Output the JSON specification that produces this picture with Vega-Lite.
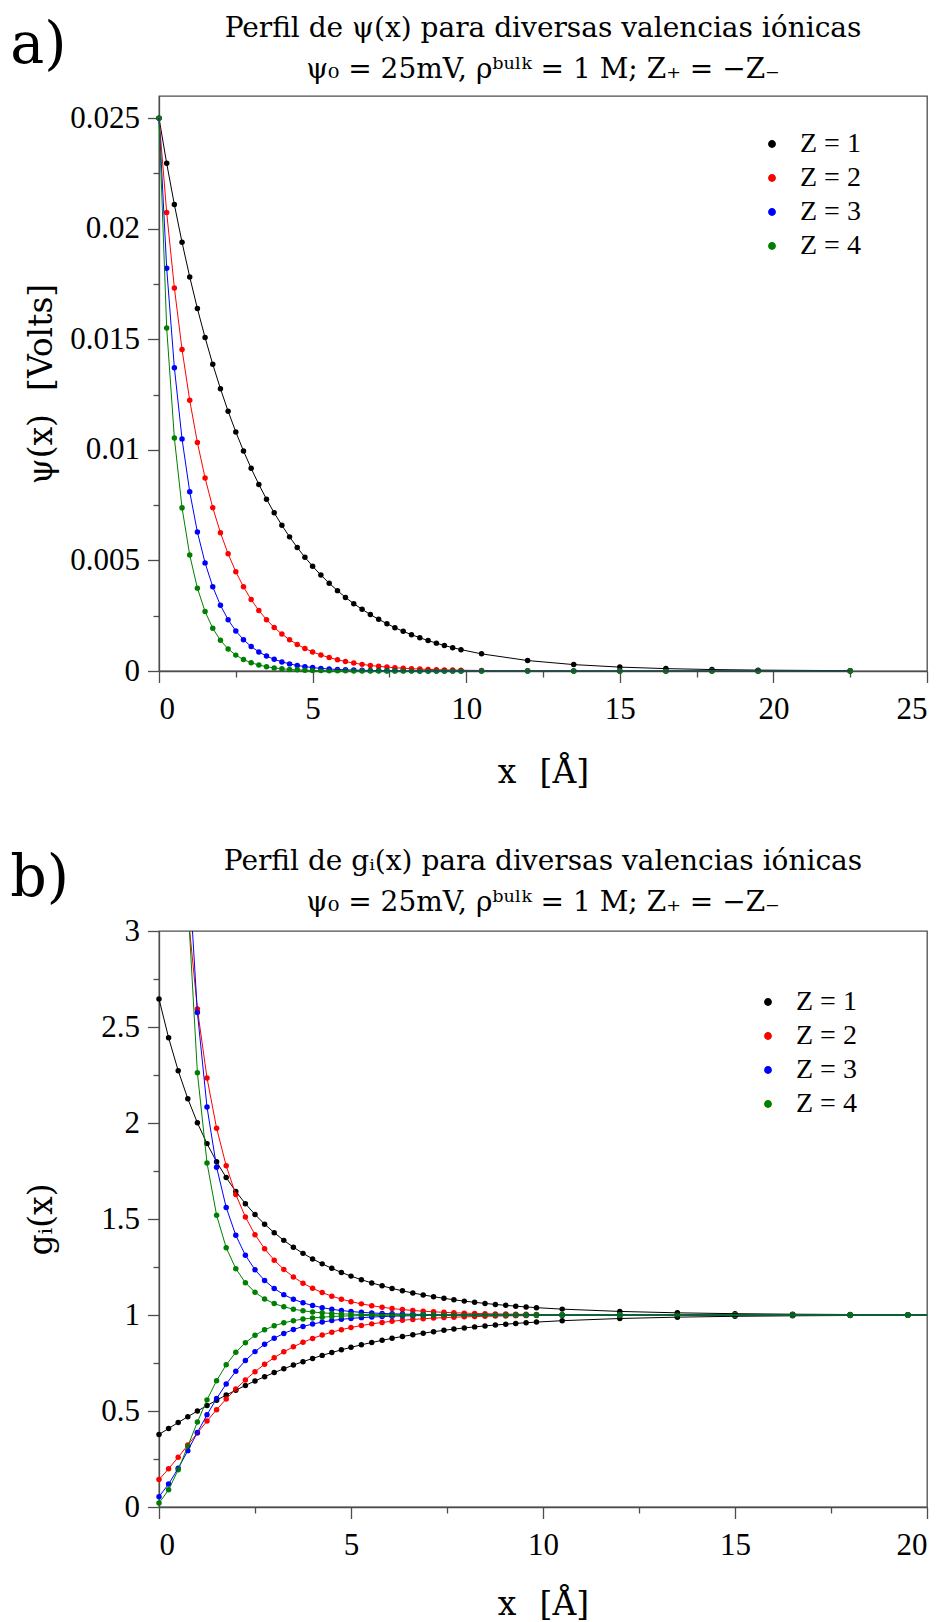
{
"$schema":"https://vega.github.io/schema/vega-lite/v6.json",
"background":"white",
"padding":{"left":10,"top":14,"right":0,"bottom":0},
"spacing":56,
"resolve":{"scale":{"x":"independent","y":"independent","color":"independent"},"axis":{"x":"independent","y":"independent"},"legend":{"color":"independent"}},
"config":{
"view":{"stroke":"#4d4d4d","strokeWidth":1.3},
"axis":{"domainColor":"#4d4d4d","domainWidth":1.3,"tickColor":"#4d4d4d","tickWidth":1.3,"labelFont":"Liberation Serif","labelFontSize":31,"labelColor":"#000000","titleFont":"DejaVu Serif","titleFontSize":33,"titleFontWeight":"normal","titleColor":"#000000","grid":false},
"legend":{"labelFont":"Liberation Serif","labelFontSize":28,"labelColor":"#000000","symbolType":"circle","symbolSize":40,"rowPadding":6,"labelOffset":14,"padding":0},
"title":{"font":"DejaVu Serif","fontSize":28,"fontWeight":"normal","color":"#000000","subtitleFont":"DejaVu Serif","subtitleFontSize":28,"subtitleColor":"#000000","subtitlePadding":13,"offset":12}
},
"datasets":{
"psi":[
{"z":"Z = 1","x":0,"v":0.025},{"z":"Z = 1","x":0.25,"v":0.022956},{"z":"Z = 1","x":0.5,"v":0.02109},{"z":"Z = 1","x":0.75,"v":0.019384},{"z":"Z = 1","x":1,"v":0.01782},{"z":"Z = 1","x":1.25,"v":0.016389},{"z":"Z = 1","x":1.5,"v":0.015075},{"z":"Z = 1","x":1.75,"v":0.01387},{"z":"Z = 1","x":2,"v":0.012764},{"z":"Z = 1","x":2.25,"v":0.011747},{"z":"Z = 1","x":2.5,"v":0.010812},{"z":"Z = 1","x":2.75,"v":0.009952},{"z":"Z = 1","x":3,"v":0.009163},{"z":"Z = 1","x":3.25,"v":0.008436},{"z":"Z = 1","x":3.5,"v":0.007767},{"z":"Z = 1","x":3.75,"v":0.007152},{"z":"Z = 1","x":4,"v":0.006586},{"z":"Z = 1","x":4.25,"v":0.006065},{"z":"Z = 1","x":4.5,"v":0.005585},{"z":"Z = 1","x":4.75,"v":0.005143},{"z":"Z = 1","x":5,"v":0.004737},{"z":"Z = 1","x":5.27,"v":0.004336},{"z":"Z = 1","x":5.54,"v":0.00397},{"z":"Z = 1","x":5.81,"v":0.003634},{"z":"Z = 1","x":6.07,"v":0.003326},{"z":"Z = 1","x":6.34,"v":0.003046},{"z":"Z = 1","x":6.61,"v":0.002789},{"z":"Z = 1","x":6.88,"v":0.002553},{"z":"Z = 1","x":7.15,"v":0.002337},{"z":"Z = 1","x":7.42,"v":0.00214},{"z":"Z = 1","x":7.68,"v":0.001959},{"z":"Z = 1","x":7.95,"v":0.001793},{"z":"Z = 1","x":8.22,"v":0.001642},{"z":"Z = 1","x":8.49,"v":0.001503},{"z":"Z = 1","x":8.76,"v":0.001376},{"z":"Z = 1","x":9.03,"v":0.00126},{"z":"Z = 1","x":9.29,"v":0.001153},{"z":"Z = 1","x":9.56,"v":0.001055},{"z":"Z = 1","x":9.83,"v":0.000966},{"z":"Z = 1","x":10.5,"v":0.000775},{"z":"Z = 1","x":12,"v":0.000473},{"z":"Z = 1","x":13.5,"v":0.000289},{"z":"Z = 1","x":15,"v":0.000176},{"z":"Z = 1","x":16.5,"v":0.000108},{"z":"Z = 1","x":18,"v":0.000066},{"z":"Z = 1","x":19.5,"v":0.00004},{"z":"Z = 1","x":22.5,"v":0.000015},
{"z":"Z = 2","x":0,"v":0.025},{"z":"Z = 2","x":0.25,"v":0.020736},{"z":"Z = 2","x":0.5,"v":0.017322},{"z":"Z = 2","x":0.75,"v":0.014538},{"z":"Z = 2","x":1,"v":0.012241},{"z":"Z = 2","x":1.25,"v":0.010329},{"z":"Z = 2","x":1.5,"v":0.00873},{"z":"Z = 2","x":1.75,"v":0.007386},{"z":"Z = 2","x":2,"v":0.006254},{"z":"Z = 2","x":2.25,"v":0.005298},{"z":"Z = 2","x":2.5,"v":0.00449},{"z":"Z = 2","x":2.75,"v":0.003807},{"z":"Z = 2","x":3,"v":0.003228},{"z":"Z = 2","x":3.25,"v":0.002737},{"z":"Z = 2","x":3.5,"v":0.002321},{"z":"Z = 2","x":3.75,"v":0.001969},{"z":"Z = 2","x":4,"v":0.00167},{"z":"Z = 2","x":4.25,"v":0.001416},{"z":"Z = 2","x":4.5,"v":0.001201},{"z":"Z = 2","x":4.75,"v":0.001019},{"z":"Z = 2","x":5,"v":0.000864},{"z":"Z = 2","x":5.27,"v":0.000724},{"z":"Z = 2","x":5.54,"v":0.000607},{"z":"Z = 2","x":5.81,"v":0.000509},{"z":"Z = 2","x":6.07,"v":0.000427},{"z":"Z = 2","x":6.34,"v":0.000358},{"z":"Z = 2","x":6.61,"v":0.0003},{"z":"Z = 2","x":6.88,"v":0.000251},{"z":"Z = 2","x":7.15,"v":0.000211},{"z":"Z = 2","x":7.42,"v":0.000176},{"z":"Z = 2","x":7.68,"v":0.000148},{"z":"Z = 2","x":7.95,"v":0.000124},{"z":"Z = 2","x":8.22,"v":0.000104},{"z":"Z = 2","x":8.49,"v":0.000087},{"z":"Z = 2","x":8.76,"v":0.000073},{"z":"Z = 2","x":9.03,"v":0.000061},{"z":"Z = 2","x":9.29,"v":0.000051},{"z":"Z = 2","x":9.56,"v":0.000043},{"z":"Z = 2","x":9.83,"v":0.000036},{"z":"Z = 2","x":10.5,"v":0.000023},{"z":"Z = 2","x":12,"v":0.000009},{"z":"Z = 2","x":13.5,"v":0.000003},{"z":"Z = 2","x":15,"v":0.000001},{"z":"Z = 2","x":16.5,"v":0},{"z":"Z = 2","x":18,"v":0},{"z":"Z = 2","x":19.5,"v":0},{"z":"Z = 2","x":22.5,"v":0},
{"z":"Z = 3","x":0,"v":0.025},{"z":"Z = 3","x":0.25,"v":0.018216},{"z":"Z = 3","x":0.5,"v":0.013717},{"z":"Z = 3","x":0.75,"v":0.010496},{"z":"Z = 3","x":1,"v":0.008102},{"z":"Z = 3","x":1.25,"v":0.006284},{"z":"Z = 3","x":1.5,"v":0.004889},{"z":"Z = 3","x":1.75,"v":0.00381},{"z":"Z = 3","x":2,"v":0.002972},{"z":"Z = 3","x":2.25,"v":0.00232},{"z":"Z = 3","x":2.5,"v":0.001812},{"z":"Z = 3","x":2.75,"v":0.001415},{"z":"Z = 3","x":3,"v":0.001106},{"z":"Z = 3","x":3.25,"v":0.000864},{"z":"Z = 3","x":3.5,"v":0.000675},{"z":"Z = 3","x":3.75,"v":0.000527},{"z":"Z = 3","x":4,"v":0.000412},{"z":"Z = 3","x":4.25,"v":0.000322},{"z":"Z = 3","x":4.5,"v":0.000252},{"z":"Z = 3","x":4.75,"v":0.000197},{"z":"Z = 3","x":5,"v":0.000154},{"z":"Z = 3","x":5.27,"v":0.000118},{"z":"Z = 3","x":5.54,"v":0.00009},{"z":"Z = 3","x":5.81,"v":0.000069},{"z":"Z = 3","x":6.07,"v":0.000053},{"z":"Z = 3","x":6.34,"v":0.000041},{"z":"Z = 3","x":6.61,"v":0.000031},{"z":"Z = 3","x":6.88,"v":0.000024},{"z":"Z = 3","x":7.15,"v":0.000019},{"z":"Z = 3","x":7.42,"v":0.000014},{"z":"Z = 3","x":7.68,"v":0.000011},{"z":"Z = 3","x":7.95,"v":0.000008},{"z":"Z = 3","x":8.22,"v":0.000006},{"z":"Z = 3","x":8.49,"v":0.000005},{"z":"Z = 3","x":8.76,"v":0.000004},{"z":"Z = 3","x":9.03,"v":0.000003},{"z":"Z = 3","x":9.29,"v":0.000002},{"z":"Z = 3","x":9.56,"v":0.000002},{"z":"Z = 3","x":9.83,"v":0.000001},{"z":"Z = 3","x":10.5,"v":0.000001},{"z":"Z = 3","x":12,"v":0},{"z":"Z = 3","x":13.5,"v":0},{"z":"Z = 3","x":15,"v":0},{"z":"Z = 3","x":16.5,"v":0},{"z":"Z = 3","x":18,"v":0},{"z":"Z = 3","x":19.5,"v":0},{"z":"Z = 3","x":22.5,"v":0},
{"z":"Z = 4","x":0,"v":0.025},{"z":"Z = 4","x":0.25,"v":0.015514},{"z":"Z = 4","x":0.5,"v":0.010534},{"z":"Z = 4","x":0.75,"v":0.007379},{"z":"Z = 4","x":1,"v":0.005241},{"z":"Z = 4","x":1.25,"v":0.003747},{"z":"Z = 4","x":1.5,"v":0.002687},{"z":"Z = 4","x":1.75,"v":0.00193},{"z":"Z = 4","x":2,"v":0.001388},{"z":"Z = 4","x":2.25,"v":0.000999},{"z":"Z = 4","x":2.5,"v":0.000718},{"z":"Z = 4","x":2.75,"v":0.000517},{"z":"Z = 4","x":3,"v":0.000372},{"z":"Z = 4","x":3.25,"v":0.000268},{"z":"Z = 4","x":3.5,"v":0.000193},{"z":"Z = 4","x":3.75,"v":0.000139},{"z":"Z = 4","x":4,"v":0.0001},{"z":"Z = 4","x":4.25,"v":0.000072},{"z":"Z = 4","x":4.5,"v":0.000052},{"z":"Z = 4","x":4.75,"v":0.000037},{"z":"Z = 4","x":5,"v":0.000027},{"z":"Z = 4","x":5.27,"v":0.000019},{"z":"Z = 4","x":5.54,"v":0.000013},{"z":"Z = 4","x":5.81,"v":0.000009},{"z":"Z = 4","x":6.07,"v":0.000007},{"z":"Z = 4","x":6.34,"v":0.000005},{"z":"Z = 4","x":6.61,"v":0.000003},{"z":"Z = 4","x":6.88,"v":0.000002},{"z":"Z = 4","x":7.15,"v":0.000002},{"z":"Z = 4","x":7.42,"v":0.000001},{"z":"Z = 4","x":7.68,"v":0.000001},{"z":"Z = 4","x":7.95,"v":0},{"z":"Z = 4","x":8.22,"v":0},{"z":"Z = 4","x":8.49,"v":0},{"z":"Z = 4","x":8.76,"v":0},{"z":"Z = 4","x":9.03,"v":0},{"z":"Z = 4","x":9.29,"v":0},{"z":"Z = 4","x":9.56,"v":0},{"z":"Z = 4","x":9.83,"v":0},{"z":"Z = 4","x":10.5,"v":0},{"z":"Z = 4","x":12,"v":0},{"z":"Z = 4","x":13.5,"v":0},{"z":"Z = 4","x":15,"v":0},{"z":"Z = 4","x":16.5,"v":0},{"z":"Z = 4","x":18,"v":0},{"z":"Z = 4","x":19.5,"v":0},{"z":"Z = 4","x":22.5,"v":0}
],
"g":[
{"z":"Z = 1","b":"+","x":0,"g":2.6462},{"z":"Z = 1","b":"+","x":0.25,"g":2.4438},{"z":"Z = 1","b":"+","x":0.5,"g":2.2726},{"z":"Z = 1","b":"+","x":0.75,"g":2.1266},{"z":"Z = 1","b":"+","x":1,"g":2.0011},{"z":"Z = 1","b":"+","x":1.25,"g":1.8926},{"z":"Z = 1","b":"+","x":1.5,"g":1.7982},{"z":"Z = 1","b":"+","x":1.75,"g":1.7158},{"z":"Z = 1","b":"+","x":2,"g":1.6435},{"z":"Z = 1","b":"+","x":2.25,"g":1.5798},{"z":"Z = 1","b":"+","x":2.5,"g":1.5233},{"z":"Z = 1","b":"+","x":2.75,"g":1.4731},{"z":"Z = 1","b":"+","x":3,"g":1.4286},{"z":"Z = 1","b":"+","x":3.25,"g":1.3887},{"z":"Z = 1","b":"+","x":3.5,"g":1.353},{"z":"Z = 1","b":"+","x":3.75,"g":1.321},{"z":"Z = 1","b":"+","x":4,"g":1.2922},{"z":"Z = 1","b":"+","x":4.25,"g":1.2663},{"z":"Z = 1","b":"+","x":4.5,"g":1.2429},{"z":"Z = 1","b":"+","x":4.75,"g":1.2217},{"z":"Z = 1","b":"+","x":5,"g":1.2025},{"z":"Z = 1","b":"+","x":5.27,"g":1.1839},{"z":"Z = 1","b":"+","x":5.54,"g":1.1671},{"z":"Z = 1","b":"+","x":5.81,"g":1.152},{"z":"Z = 1","b":"+","x":6.07,"g":1.1382},{"z":"Z = 1","b":"+","x":6.34,"g":1.1259},{"z":"Z = 1","b":"+","x":6.61,"g":1.1147},{"z":"Z = 1","b":"+","x":6.88,"g":1.1045},{"z":"Z = 1","b":"+","x":7.15,"g":1.0953},{"z":"Z = 1","b":"+","x":7.42,"g":1.0869},{"z":"Z = 1","b":"+","x":7.68,"g":1.0792},{"z":"Z = 1","b":"+","x":7.95,"g":1.0723},{"z":"Z = 1","b":"+","x":8.22,"g":1.066},{"z":"Z = 1","b":"+","x":8.49,"g":1.0603},{"z":"Z = 1","b":"+","x":8.76,"g":1.055},{"z":"Z = 1","b":"+","x":9.03,"g":1.0503},{"z":"Z = 1","b":"+","x":9.29,"g":1.0459},{"z":"Z = 1","b":"+","x":9.56,"g":1.0419},{"z":"Z = 1","b":"+","x":9.83,"g":1.0383},{"z":"Z = 1","b":"+","x":10.5,"g":1.0306},{"z":"Z = 1","b":"+","x":12,"g":1.0186},{"z":"Z = 1","b":"+","x":13.5,"g":1.0113},{"z":"Z = 1","b":"+","x":15,"g":1.0069},{"z":"Z = 1","b":"+","x":16.5,"g":1.0042},{"z":"Z = 1","b":"+","x":18,"g":1.0026},{"z":"Z = 1","b":"+","x":19.5,"g":1.0016},{"z":"Z = 1","b":"+","x":22.5,"g":1.0006},
{"z":"Z = 1","b":"-","x":0,"g":0.3779},{"z":"Z = 1","b":"-","x":0.25,"g":0.4092},{"z":"Z = 1","b":"-","x":0.5,"g":0.44},{"z":"Z = 1","b":"-","x":0.75,"g":0.4702},{"z":"Z = 1","b":"-","x":1,"g":0.4997},{"z":"Z = 1","b":"-","x":1.25,"g":0.5284},{"z":"Z = 1","b":"-","x":1.5,"g":0.5561},{"z":"Z = 1","b":"-","x":1.75,"g":0.5828},{"z":"Z = 1","b":"-","x":2,"g":0.6085},{"z":"Z = 1","b":"-","x":2.25,"g":0.633},{"z":"Z = 1","b":"-","x":2.5,"g":0.6565},{"z":"Z = 1","b":"-","x":2.75,"g":0.6788},{"z":"Z = 1","b":"-","x":3,"g":0.7},{"z":"Z = 1","b":"-","x":3.25,"g":0.7201},{"z":"Z = 1","b":"-","x":3.5,"g":0.7391},{"z":"Z = 1","b":"-","x":3.75,"g":0.757},{"z":"Z = 1","b":"-","x":4,"g":0.7739},{"z":"Z = 1","b":"-","x":4.25,"g":0.7897},{"z":"Z = 1","b":"-","x":4.5,"g":0.8046},{"z":"Z = 1","b":"-","x":4.75,"g":0.8185},{"z":"Z = 1","b":"-","x":5,"g":0.8316},{"z":"Z = 1","b":"-","x":5.27,"g":0.8447},{"z":"Z = 1","b":"-","x":5.54,"g":0.8568},{"z":"Z = 1","b":"-","x":5.81,"g":0.8681},{"z":"Z = 1","b":"-","x":6.07,"g":0.8785},{"z":"Z = 1","b":"-","x":6.34,"g":0.8882},{"z":"Z = 1","b":"-","x":6.61,"g":0.8971},{"z":"Z = 1","b":"-","x":6.88,"g":0.9054},{"z":"Z = 1","b":"-","x":7.15,"g":0.913},{"z":"Z = 1","b":"-","x":7.42,"g":0.9201},{"z":"Z = 1","b":"-","x":7.68,"g":0.9266},{"z":"Z = 1","b":"-","x":7.95,"g":0.9326},{"z":"Z = 1","b":"-","x":8.22,"g":0.9381},{"z":"Z = 1","b":"-","x":8.49,"g":0.9432},{"z":"Z = 1","b":"-","x":8.76,"g":0.9478},{"z":"Z = 1","b":"-","x":9.03,"g":0.9521},{"z":"Z = 1","b":"-","x":9.29,"g":0.9561},{"z":"Z = 1","b":"-","x":9.56,"g":0.9598},{"z":"Z = 1","b":"-","x":9.83,"g":0.9631},{"z":"Z = 1","b":"-","x":10.5,"g":0.9703},{"z":"Z = 1","b":"-","x":12,"g":0.9817},{"z":"Z = 1","b":"-","x":13.5,"g":0.9888},{"z":"Z = 1","b":"-","x":15,"g":0.9932},{"z":"Z = 1","b":"-","x":16.5,"g":0.9958},{"z":"Z = 1","b":"-","x":18,"g":0.9974},{"z":"Z = 1","b":"-","x":19.5,"g":0.9984},{"z":"Z = 1","b":"-","x":22.5,"g":0.9994},
{"z":"Z = 2","b":"+","x":0,"g":7.002},{"z":"Z = 2","b":"+","x":0.25,"g":5.0243},{"z":"Z = 2","b":"+","x":0.5,"g":3.8517},{"z":"Z = 2","b":"+","x":0.75,"g":3.1012},{"z":"Z = 2","b":"+","x":1,"g":2.5934},{"z":"Z = 2","b":"+","x":1.25,"g":2.2348},{"z":"Z = 2","b":"+","x":1.5,"g":1.9731},{"z":"Z = 2","b":"+","x":1.75,"g":1.7771},{"z":"Z = 2","b":"+","x":2,"g":1.6272},{"z":"Z = 2","b":"+","x":2.25,"g":1.5105},{"z":"Z = 2","b":"+","x":2.5,"g":1.4185},{"z":"Z = 2","b":"+","x":2.75,"g":1.3449},{"z":"Z = 2","b":"+","x":3,"g":1.2857},{"z":"Z = 2","b":"+","x":3.25,"g":1.2375},{"z":"Z = 2","b":"+","x":3.5,"g":1.1981},{"z":"Z = 2","b":"+","x":3.75,"g":1.1657},{"z":"Z = 2","b":"+","x":4,"g":1.1388},{"z":"Z = 2","b":"+","x":4.25,"g":1.1166},{"z":"Z = 2","b":"+","x":4.5,"g":1.0981},{"z":"Z = 2","b":"+","x":4.75,"g":1.0826},{"z":"Z = 2","b":"+","x":5,"g":1.0696},{"z":"Z = 2","b":"+","x":5.27,"g":1.058},{"z":"Z = 2","b":"+","x":5.54,"g":1.0484},{"z":"Z = 2","b":"+","x":5.81,"g":1.0404},{"z":"Z = 2","b":"+","x":6.07,"g":1.0338},{"z":"Z = 2","b":"+","x":6.34,"g":1.0282},{"z":"Z = 2","b":"+","x":6.61,"g":1.0236},{"z":"Z = 2","b":"+","x":6.88,"g":1.0197},{"z":"Z = 2","b":"+","x":7.15,"g":1.0165},{"z":"Z = 2","b":"+","x":7.42,"g":1.0138},{"z":"Z = 2","b":"+","x":7.68,"g":1.0116},{"z":"Z = 2","b":"+","x":7.95,"g":1.0097},{"z":"Z = 2","b":"+","x":8.22,"g":1.0081},{"z":"Z = 2","b":"+","x":8.49,"g":1.0068},{"z":"Z = 2","b":"+","x":8.76,"g":1.0057},{"z":"Z = 2","b":"+","x":9.03,"g":1.0048},{"z":"Z = 2","b":"+","x":9.29,"g":1.004},{"z":"Z = 2","b":"+","x":9.56,"g":1.0034},{"z":"Z = 2","b":"+","x":9.83,"g":1.0028},{"z":"Z = 2","b":"+","x":10.5,"g":1.0018},{"z":"Z = 2","b":"+","x":12,"g":1.0007},{"z":"Z = 2","b":"+","x":13.5,"g":1.0003},{"z":"Z = 2","b":"+","x":15,"g":1.0001},{"z":"Z = 2","b":"+","x":16.5,"g":1},{"z":"Z = 2","b":"+","x":18,"g":1},{"z":"Z = 2","b":"+","x":19.5,"g":1},{"z":"Z = 2","b":"+","x":22.5,"g":1},
{"z":"Z = 2","b":"-","x":0,"g":0.1428},{"z":"Z = 2","b":"-","x":0.25,"g":0.199},{"z":"Z = 2","b":"-","x":0.5,"g":0.2596},{"z":"Z = 2","b":"-","x":0.75,"g":0.3225},{"z":"Z = 2","b":"-","x":1,"g":0.3856},{"z":"Z = 2","b":"-","x":1.25,"g":0.4475},{"z":"Z = 2","b":"-","x":1.5,"g":0.5068},{"z":"Z = 2","b":"-","x":1.75,"g":0.5627},{"z":"Z = 2","b":"-","x":2,"g":0.6146},{"z":"Z = 2","b":"-","x":2.25,"g":0.662},{"z":"Z = 2","b":"-","x":2.5,"g":0.705},{"z":"Z = 2","b":"-","x":2.75,"g":0.7435},{"z":"Z = 2","b":"-","x":3,"g":0.7778},{"z":"Z = 2","b":"-","x":3.25,"g":0.8081},{"z":"Z = 2","b":"-","x":3.5,"g":0.8347},{"z":"Z = 2","b":"-","x":3.75,"g":0.8579},{"z":"Z = 2","b":"-","x":4,"g":0.8781},{"z":"Z = 2","b":"-","x":4.25,"g":0.8956},{"z":"Z = 2","b":"-","x":4.5,"g":0.9107},{"z":"Z = 2","b":"-","x":4.75,"g":0.9237},{"z":"Z = 2","b":"-","x":5,"g":0.9349},{"z":"Z = 2","b":"-","x":5.27,"g":0.9452},{"z":"Z = 2","b":"-","x":5.54,"g":0.9538},{"z":"Z = 2","b":"-","x":5.81,"g":0.9612},{"z":"Z = 2","b":"-","x":6.07,"g":0.9673},{"z":"Z = 2","b":"-","x":6.34,"g":0.9726},{"z":"Z = 2","b":"-","x":6.61,"g":0.9769},{"z":"Z = 2","b":"-","x":6.88,"g":0.9806},{"z":"Z = 2","b":"-","x":7.15,"g":0.9838},{"z":"Z = 2","b":"-","x":7.42,"g":0.9864},{"z":"Z = 2","b":"-","x":7.68,"g":0.9886},{"z":"Z = 2","b":"-","x":7.95,"g":0.9904},{"z":"Z = 2","b":"-","x":8.22,"g":0.9919},{"z":"Z = 2","b":"-","x":8.49,"g":0.9932},{"z":"Z = 2","b":"-","x":8.76,"g":0.9943},{"z":"Z = 2","b":"-","x":9.03,"g":0.9953},{"z":"Z = 2","b":"-","x":9.29,"g":0.996},{"z":"Z = 2","b":"-","x":9.56,"g":0.9967},{"z":"Z = 2","b":"-","x":9.83,"g":0.9972},{"z":"Z = 2","b":"-","x":10.5,"g":0.9982},{"z":"Z = 2","b":"-","x":12,"g":0.9993},{"z":"Z = 2","b":"-","x":13.5,"g":0.9997},{"z":"Z = 2","b":"-","x":15,"g":0.9999},{"z":"Z = 2","b":"-","x":16.5,"g":1},{"z":"Z = 2","b":"-","x":18,"g":1},{"z":"Z = 2","b":"-","x":19.5,"g":1},{"z":"Z = 2","b":"-","x":22.5,"g":1},
{"z":"Z = 3","b":"+","x":0,"g":18.529},{"z":"Z = 3","b":"+","x":0.25,"g":8.3915},{"z":"Z = 3","b":"+","x":0.5,"g":4.9621},{"z":"Z = 3","b":"+","x":0.75,"g":3.4066},{"z":"Z = 3","b":"+","x":1,"g":2.5756},{"z":"Z = 3","b":"+","x":1.25,"g":2.0832},{"z":"Z = 3","b":"+","x":1.5,"g":1.7699},{"z":"Z = 3","b":"+","x":1.75,"g":1.5604},{"z":"Z = 3","b":"+","x":2,"g":1.415},{"z":"Z = 3","b":"+","x":2.25,"g":1.3112},{"z":"Z = 3","b":"+","x":2.5,"g":1.2356},{"z":"Z = 3","b":"+","x":2.75,"g":1.1797},{"z":"Z = 3","b":"+","x":3,"g":1.1378},{"z":"Z = 3","b":"+","x":3.25,"g":1.1061},{"z":"Z = 3","b":"+","x":3.5,"g":1.082},{"z":"Z = 3","b":"+","x":3.75,"g":1.0635},{"z":"Z = 3","b":"+","x":4,"g":1.0493},{"z":"Z = 3","b":"+","x":4.25,"g":1.0383},{"z":"Z = 3","b":"+","x":4.5,"g":1.0298},{"z":"Z = 3","b":"+","x":4.75,"g":1.0232},{"z":"Z = 3","b":"+","x":5,"g":1.0181},{"z":"Z = 3","b":"+","x":5.27,"g":1.0139},{"z":"Z = 3","b":"+","x":5.54,"g":1.0106},{"z":"Z = 3","b":"+","x":5.81,"g":1.0081},{"z":"Z = 3","b":"+","x":6.07,"g":1.0062},{"z":"Z = 3","b":"+","x":6.34,"g":1.0048},{"z":"Z = 3","b":"+","x":6.61,"g":1.0037},{"z":"Z = 3","b":"+","x":6.88,"g":1.0028},{"z":"Z = 3","b":"+","x":7.15,"g":1.0022},{"z":"Z = 3","b":"+","x":7.42,"g":1.0017},{"z":"Z = 3","b":"+","x":7.68,"g":1.0013},{"z":"Z = 3","b":"+","x":7.95,"g":1.001},{"z":"Z = 3","b":"+","x":8.22,"g":1.0007},{"z":"Z = 3","b":"+","x":8.49,"g":1.0006},{"z":"Z = 3","b":"+","x":8.76,"g":1.0004},{"z":"Z = 3","b":"+","x":9.03,"g":1.0003},{"z":"Z = 3","b":"+","x":9.29,"g":1.0003},{"z":"Z = 3","b":"+","x":9.56,"g":1.0002},{"z":"Z = 3","b":"+","x":9.83,"g":1.0002},{"z":"Z = 3","b":"+","x":10.5,"g":1.0001},{"z":"Z = 3","b":"+","x":12,"g":1},{"z":"Z = 3","b":"+","x":13.5,"g":1},{"z":"Z = 3","b":"+","x":15,"g":1},{"z":"Z = 3","b":"+","x":16.5,"g":1},{"z":"Z = 3","b":"+","x":18,"g":1},{"z":"Z = 3","b":"+","x":19.5,"g":1},{"z":"Z = 3","b":"+","x":22.5,"g":1},
{"z":"Z = 3","b":"-","x":0,"g":0.054},{"z":"Z = 3","b":"-","x":0.25,"g":0.1192},{"z":"Z = 3","b":"-","x":0.5,"g":0.2015},{"z":"Z = 3","b":"-","x":0.75,"g":0.2936},{"z":"Z = 3","b":"-","x":1,"g":0.3883},{"z":"Z = 3","b":"-","x":1.25,"g":0.48},{"z":"Z = 3","b":"-","x":1.5,"g":0.565},{"z":"Z = 3","b":"-","x":1.75,"g":0.6409},{"z":"Z = 3","b":"-","x":2,"g":0.7067},{"z":"Z = 3","b":"-","x":2.25,"g":0.7627},{"z":"Z = 3","b":"-","x":2.5,"g":0.8093},{"z":"Z = 3","b":"-","x":2.75,"g":0.8477},{"z":"Z = 3","b":"-","x":3,"g":0.8789},{"z":"Z = 3","b":"-","x":3.25,"g":0.9041},{"z":"Z = 3","b":"-","x":3.5,"g":0.9242},{"z":"Z = 3","b":"-","x":3.75,"g":0.9403},{"z":"Z = 3","b":"-","x":4,"g":0.953},{"z":"Z = 3","b":"-","x":4.25,"g":0.9631},{"z":"Z = 3","b":"-","x":4.5,"g":0.9711},{"z":"Z = 3","b":"-","x":4.75,"g":0.9773},{"z":"Z = 3","b":"-","x":5,"g":0.9822},{"z":"Z = 3","b":"-","x":5.27,"g":0.9863},{"z":"Z = 3","b":"-","x":5.54,"g":0.9895},{"z":"Z = 3","b":"-","x":5.81,"g":0.9919},{"z":"Z = 3","b":"-","x":6.07,"g":0.9938},{"z":"Z = 3","b":"-","x":6.34,"g":0.9952},{"z":"Z = 3","b":"-","x":6.61,"g":0.9964},{"z":"Z = 3","b":"-","x":6.88,"g":0.9972},{"z":"Z = 3","b":"-","x":7.15,"g":0.9978},{"z":"Z = 3","b":"-","x":7.42,"g":0.9983},{"z":"Z = 3","b":"-","x":7.68,"g":0.9987},{"z":"Z = 3","b":"-","x":7.95,"g":0.999},{"z":"Z = 3","b":"-","x":8.22,"g":0.9993},{"z":"Z = 3","b":"-","x":8.49,"g":0.9994},{"z":"Z = 3","b":"-","x":8.76,"g":0.9996},{"z":"Z = 3","b":"-","x":9.03,"g":0.9997},{"z":"Z = 3","b":"-","x":9.29,"g":0.9997},{"z":"Z = 3","b":"-","x":9.56,"g":0.9998},{"z":"Z = 3","b":"-","x":9.83,"g":0.9998},{"z":"Z = 3","b":"-","x":10.5,"g":0.9999},{"z":"Z = 3","b":"-","x":12,"g":1},{"z":"Z = 3","b":"-","x":13.5,"g":1},{"z":"Z = 3","b":"-","x":15,"g":1},{"z":"Z = 3","b":"-","x":16.5,"g":1},{"z":"Z = 3","b":"-","x":18,"g":1},{"z":"Z = 3","b":"-","x":19.5,"g":1},{"z":"Z = 3","b":"-","x":22.5,"g":1},
{"z":"Z = 4","b":"+","x":0,"g":49.03},{"z":"Z = 4","b":"+","x":0.25,"g":11.196},{"z":"Z = 4","b":"+","x":0.5,"g":5.1557},{"z":"Z = 4","b":"+","x":0.75,"g":3.1549},{"z":"Z = 4","b":"+","x":1,"g":2.2615},{"z":"Z = 4","b":"+","x":1.25,"g":1.792},{"z":"Z = 4","b":"+","x":1.5,"g":1.5195},{"z":"Z = 4","b":"+","x":1.75,"g":1.3506},{"z":"Z = 4","b":"+","x":2,"g":1.2413},{"z":"Z = 4","b":"+","x":2.25,"g":1.1682},{"z":"Z = 4","b":"+","x":2.5,"g":1.1184},{"z":"Z = 4","b":"+","x":2.75,"g":1.0838},{"z":"Z = 4","b":"+","x":3,"g":1.0596},{"z":"Z = 4","b":"+","x":3.25,"g":1.0426},{"z":"Z = 4","b":"+","x":3.5,"g":1.0305},{"z":"Z = 4","b":"+","x":3.75,"g":1.0218},{"z":"Z = 4","b":"+","x":4,"g":1.0157},{"z":"Z = 4","b":"+","x":4.25,"g":1.0113},{"z":"Z = 4","b":"+","x":4.5,"g":1.0081},{"z":"Z = 4","b":"+","x":4.75,"g":1.0058},{"z":"Z = 4","b":"+","x":5,"g":1.0042},{"z":"Z = 4","b":"+","x":5.27,"g":1.0029},{"z":"Z = 4","b":"+","x":5.54,"g":1.0021},{"z":"Z = 4","b":"+","x":5.81,"g":1.0014},{"z":"Z = 4","b":"+","x":6.07,"g":1.001},{"z":"Z = 4","b":"+","x":6.34,"g":1.0007},{"z":"Z = 4","b":"+","x":6.61,"g":1.0005},{"z":"Z = 4","b":"+","x":6.88,"g":1.0004},{"z":"Z = 4","b":"+","x":7.15,"g":1.0002},{"z":"Z = 4","b":"+","x":7.42,"g":1.0002},{"z":"Z = 4","b":"+","x":7.68,"g":1.0001},{"z":"Z = 4","b":"+","x":7.95,"g":1},{"z":"Z = 4","b":"+","x":8.22,"g":1},{"z":"Z = 4","b":"+","x":8.49,"g":1},{"z":"Z = 4","b":"+","x":8.76,"g":1},{"z":"Z = 4","b":"+","x":9.03,"g":1},{"z":"Z = 4","b":"+","x":9.29,"g":1},{"z":"Z = 4","b":"+","x":9.56,"g":1},{"z":"Z = 4","b":"+","x":9.83,"g":1},{"z":"Z = 4","b":"+","x":10.5,"g":1},{"z":"Z = 4","b":"+","x":12,"g":1},{"z":"Z = 4","b":"+","x":13.5,"g":1},{"z":"Z = 4","b":"+","x":15,"g":1},{"z":"Z = 4","b":"+","x":16.5,"g":1},{"z":"Z = 4","b":"+","x":18,"g":1},{"z":"Z = 4","b":"+","x":19.5,"g":1},{"z":"Z = 4","b":"+","x":22.5,"g":1},
{"z":"Z = 4","b":"-","x":0,"g":0.0204},{"z":"Z = 4","b":"-","x":0.25,"g":0.0893},{"z":"Z = 4","b":"-","x":0.5,"g":0.194},{"z":"Z = 4","b":"-","x":0.75,"g":0.317},{"z":"Z = 4","b":"-","x":1,"g":0.4422},{"z":"Z = 4","b":"-","x":1.25,"g":0.558},{"z":"Z = 4","b":"-","x":1.5,"g":0.6581},{"z":"Z = 4","b":"-","x":1.75,"g":0.7404},{"z":"Z = 4","b":"-","x":2,"g":0.8056},{"z":"Z = 4","b":"-","x":2.25,"g":0.856},{"z":"Z = 4","b":"-","x":2.5,"g":0.8942},{"z":"Z = 4","b":"-","x":2.75,"g":0.9227},{"z":"Z = 4","b":"-","x":3,"g":0.9437},{"z":"Z = 4","b":"-","x":3.25,"g":0.9592},{"z":"Z = 4","b":"-","x":3.5,"g":0.9704},{"z":"Z = 4","b":"-","x":3.75,"g":0.9786},{"z":"Z = 4","b":"-","x":4,"g":0.9846},{"z":"Z = 4","b":"-","x":4.25,"g":0.9889},{"z":"Z = 4","b":"-","x":4.5,"g":0.992},{"z":"Z = 4","b":"-","x":4.75,"g":0.9942},{"z":"Z = 4","b":"-","x":5,"g":0.9958},{"z":"Z = 4","b":"-","x":5.27,"g":0.9971},{"z":"Z = 4","b":"-","x":5.54,"g":0.998},{"z":"Z = 4","b":"-","x":5.81,"g":0.9986},{"z":"Z = 4","b":"-","x":6.07,"g":0.999},{"z":"Z = 4","b":"-","x":6.34,"g":0.9993},{"z":"Z = 4","b":"-","x":6.61,"g":0.9995},{"z":"Z = 4","b":"-","x":6.88,"g":0.9996},{"z":"Z = 4","b":"-","x":7.15,"g":0.9998},{"z":"Z = 4","b":"-","x":7.42,"g":0.9998},{"z":"Z = 4","b":"-","x":7.68,"g":0.9999},{"z":"Z = 4","b":"-","x":7.95,"g":1},{"z":"Z = 4","b":"-","x":8.22,"g":1},{"z":"Z = 4","b":"-","x":8.49,"g":1},{"z":"Z = 4","b":"-","x":8.76,"g":1},{"z":"Z = 4","b":"-","x":9.03,"g":1},{"z":"Z = 4","b":"-","x":9.29,"g":1},{"z":"Z = 4","b":"-","x":9.56,"g":1},{"z":"Z = 4","b":"-","x":9.83,"g":1},{"z":"Z = 4","b":"-","x":10.5,"g":1},{"z":"Z = 4","b":"-","x":12,"g":1},{"z":"Z = 4","b":"-","x":13.5,"g":1},{"z":"Z = 4","b":"-","x":15,"g":1},{"z":"Z = 4","b":"-","x":16.5,"g":1},{"z":"Z = 4","b":"-","x":18,"g":1},{"z":"Z = 4","b":"-","x":19.5,"g":1},{"z":"Z = 4","b":"-","x":22.5,"g":1}
]
},
"vconcat":[
{
"title":{"text":"a)","anchor":"start","frame":"bounds","font":"DejaVu Serif","fontSize":57,"fontWeight":"normal","baseline":"top","offset":-61,"dx":-14},
"resolve":{"scale":{"x":"independent","y":"independent","color":"independent"},"axis":{"x":"independent","y":"independent"},"legend":{"color":"independent"}},
"vconcat":[
{
"width":768,"height":575,
"title":{"text":"Perfil de ψ(x) para diversas valencias iónicas","subtitle":"ψ₀ = 25mV, ρᵇᵘˡᵏ = 1 M; Z₊ = −Z₋","anchor":"middle","frame":"group","offset":12},
"data":{"name":"psi"},
"encoding":{
"x":{"field":"x","type":"quantitative","scale":{"domain":[0,25],"nice":false,"zero":false},"axis":{"title":"x\u2002\u2009[Å]","values":[0,2.5,5,7.5,10,12.5,15,17.5,20,22.5,25],"labelExpr":"datum.value % 5 == 0 ? format(datum.value, '~g') : ''","tickSize":{"condition":{"test":"datum.value % 5 != 0","value":6},"value":11.5},"labelPadding":12,"titlePadding":32}},
"y":{"field":"v","type":"quantitative","scale":{"domain":[0,0.026],"nice":false,"zero":false},"axis":{"title":"ψ(x)\u2002\u2009[Volts]","values":[0,0.0025,0.005,0.0075,0.01,0.0125,0.015,0.0175,0.02,0.0225,0.025],"labelExpr":"abs(datum.value/0.005 - round(datum.value/0.005)) < 0.01 ? format(datum.value, '~g') : ''","tickSize":{"condition":{"test":"abs(datum.value/0.005 - round(datum.value/0.005)) > 0.01","value":6},"value":11.5},"labelPadding":8,"titleX":-118,"titleBaseline":"middle","titleAngle":-90}}
},
"layer":[
{"mark":{"type":"point","filled":true,"size":30,"opacity":1},"encoding":{"color":{"field":"z","type":"nominal","scale":{"domain":["Z = 1","Z = 2","Z = 3","Z = 4"],"range":["#000000","#ff0000","#0000ff","#008000"]},"legend":{"title":null,"orient":"none","legendX":599,"legendY":34,"symbolType":"circle"}}}},
{"mark":{"type":"line","strokeWidth":1},"encoding":{"color":{"field":"z","type":"nominal","scale":{"domain":["Z = 1","Z = 2","Z = 3","Z = 4"],"range":["#000000","#ff0000","#0000ff","#008000"]}}}}
]
}
]
},
{
"title":{"text":"b)","anchor":"start","frame":"bounds","font":"DejaVu Serif","fontSize":57,"fontWeight":"normal","baseline":"top","offset":-61,"dx":-14},
"resolve":{"scale":{"x":"independent","y":"independent","color":"independent"},"axis":{"x":"independent","y":"independent"},"legend":{"color":"independent"}},
"vconcat":[
{
"width":768,"height":576,
"title":{"text":"Perfil de gᵢ(x) para diversas valencias iónicas","subtitle":"ψ₀ = 25mV, ρᵇᵘˡᵏ = 1 M; Z₊ = −Z₋","anchor":"middle","frame":"group","offset":-2},
"data":{"name":"g"},
"encoding":{
"x":{"field":"x","type":"quantitative","scale":{"domain":[0,20],"nice":false,"zero":false},"axis":{"title":"x\u2002\u2009[Å]","values":[0,2.5,5,7.5,10,12.5,15,17.5,20],"labelExpr":"datum.value % 5 == 0 ? format(datum.value, '~g') : ''","tickSize":{"condition":{"test":"datum.value % 5 != 0","value":6},"value":11.5},"labelPadding":12,"titlePadding":28}},
"y":{"field":"g","type":"quantitative","scale":{"domain":[0,3],"nice":false,"zero":false},"axis":{"title":"gᵢ(x)","values":[0,0.25,0.5,0.75,1,1.25,1.5,1.75,2,2.25,2.5,2.75,3],"labelExpr":"abs(datum.value/0.5 - round(datum.value/0.5)) < 0.01 ? format(datum.value, '~g') : ''","tickSize":{"condition":{"test":"abs(datum.value/0.5 - round(datum.value/0.5)) > 0.01","value":6},"value":11.5},"labelPadding":8,"titleX":-118,"titleBaseline":"middle","titleAngle":-90}}
},
"layer":[
{"transform":[{"filter":"datum.x <= 20 && datum.g <= 3"}],"mark":{"type":"point","filled":true,"size":30,"opacity":1},"encoding":{"color":{"field":"z","type":"nominal","scale":{"domain":["Z = 1","Z = 2","Z = 3","Z = 4"],"range":["#000000","#ff0000","#0000ff","#008000"]},"legend":{"title":null,"orient":"none","legendX":595,"legendY":57,"symbolType":"circle"}}}},
{"mark":{"type":"line","strokeWidth":1,"clip":true},"encoding":{"detail":{"field":"b"},"color":{"field":"z","type":"nominal","scale":{"domain":["Z = 1","Z = 2","Z = 3","Z = 4"],"range":["#000000","#ff0000","#0000ff","#008000"]}}}}
]
}
]
}
]
}
